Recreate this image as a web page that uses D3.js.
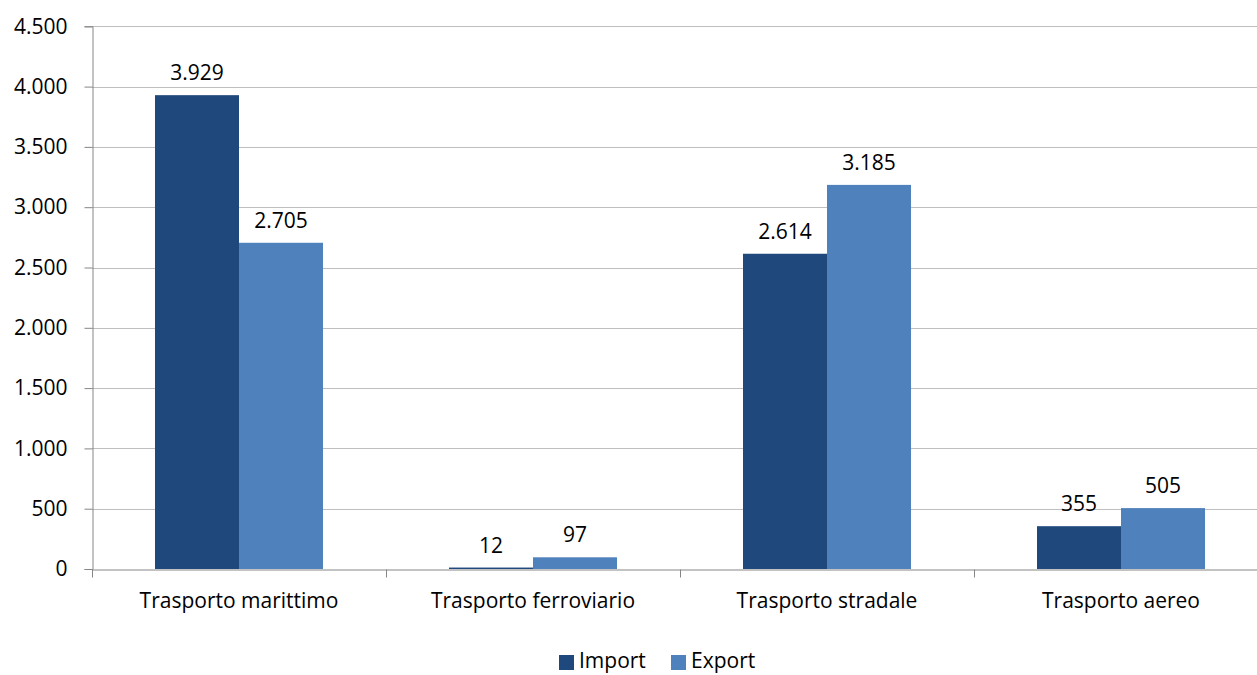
<!DOCTYPE html>
<html><head><meta charset="utf-8">
<script src="https://cdn.jsdelivr.net/npm/d3@7"></script>
<style>html,body{margin:0;padding:0;background:#fff;overflow:hidden}</style>
</head><body>
<svg id="c" width="1257" height="675"></svg>
<script>
const categories = ["Trasporto marittimo","Trasporto ferroviario","Trasporto stradale","Trasporto aereo"];
const series = ["Import","Export"];
const importValues = [3929, 12, 2614, 355];
const exportValues = [2705, 97, 3185, 505];
const yTicks = [0,500,1000,1500,2000,2500,3000,3500,4000,4500];
const colors = {Import:"#1F497D", Export:"#4F81BD"};

const fontFam = "'Open Sans', Lato, sans-serif";
const fs = 21;
const loc = d3.formatLocale({decimal:",", thousands:".", grouping:[3], currency:["€",""]});
const fmt = loc.format(",d");

const svg = d3.select("#c");
const x0 = 92, bandW = 294;
const x = d3.scaleBand().domain(categories).range([x0, x0 + bandW*categories.length]).padding(0);
const xs = d3.scaleBand().domain(series).range([63, 63+168]).padding(0);
const y = d3.scaleLinear().domain([0,4500]).range([569, 26.3]);

// gridlines
svg.append("g").selectAll("line").data(yTicks.filter(d=>d>0)).join("line")
  .attr("x1", x0).attr("x2", 1257).attr("y1", d=>Math.round(y(d))+0.5).attr("y2", d=>Math.round(y(d))+0.5)
  .attr("stroke","#BFBFBF").attr("stroke-width",1);

// bars
const data = categories.map((c,i)=>({cat:c, vals:[{s:"Import",v:importValues[i]},{s:"Export",v:exportValues[i]}]}));
const g = svg.append("g").selectAll("g").data(data).join("g").attr("transform", d=>`translate(${x(d.cat)},0)`);
g.selectAll("rect").data(d=>d.vals).join("rect")
  .attr("x", d=>xs(d.s)).attr("width", xs.bandwidth())
  .attr("y", d=>y(d.v)).attr("height", d=>y(0)-y(d.v))
  .attr("fill", d=>colors[d.s]);
g.selectAll("text").data(d=>d.vals).join("text")
  .attr("x", d=>xs(d.s)+xs.bandwidth()/2).attr("y", d=>y(d.v)-15)
  .attr("text-anchor","middle").attr("font-family",fontFam).attr("font-size",fs).attr("fill","#000")
  .text(d=>fmt(d.v));

// y axis
const yAxis = d3.axisLeft(y).tickValues(yTicks).tickSize(8).tickPadding(17).tickFormat(fmt);
const ya = svg.append("g").attr("transform",`translate(${x0+0.5},0)`).call(yAxis);
ya.select(".domain").attr("stroke","#868686");
ya.selectAll(".tick line").attr("stroke","#868686");
ya.selectAll(".tick text").attr("font-family",fontFam).attr("font-size",fs).attr("fill","#000");

// x axis
const xAxis = d3.axisBottom(x).tickSize(0).tickPadding(24);
const xa = svg.append("g").attr("transform",`translate(0,${y(0)+0.5})`).call(xAxis);
xa.select(".domain").attr("stroke","#868686");
xa.selectAll(".tick text").attr("font-family",fontFam).attr("font-size",fs).attr("fill","#000");
// category separator ticks
xa.append("g").selectAll("line").data(d3.range(categories.length+1)).join("line")
  .attr("x1", i=>x0+i*bandW+0.5).attr("x2", i=>x0+i*bandW+0.5).attr("y1",0).attr("y2",8)
  .attr("stroke","#868686");

// legend
const leg = svg.append("g");
const legItems = [{s:"Import", x:559},{s:"Export", x:671}];
leg.selectAll("rect").data(legItems).join("rect")
  .attr("x", d=>d.x).attr("y",655).attr("width",15).attr("height",15).attr("fill",d=>colors[d.s]);
leg.selectAll("text").data(legItems).join("text")
  .attr("x", d=>d.x+20).attr("y",668).attr("font-family",fontFam).attr("font-size",fs).attr("fill","#000")
  .text(d=>d.s);
</script>
</body></html>
